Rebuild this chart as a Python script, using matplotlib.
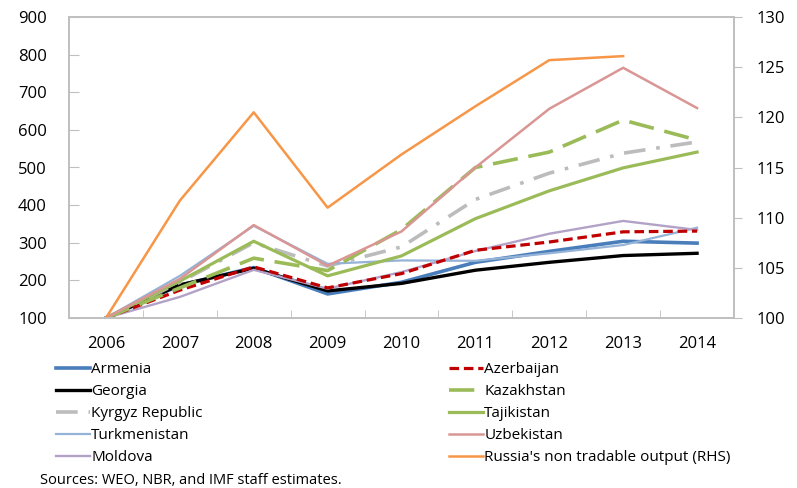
import numpy as np
import matplotlib
matplotlib.use("Agg")
import matplotlib.pyplot as plt
from matplotlib.lines import Line2D

plt.rcParams["font.family"] = ["Open Sans", "DejaVu Sans"]

years = ["2006", "2007", "2008", "2009", "2010", "2011", "2012", "2013", "2014"]

armenia = [100, 187, 234, 164, 195, 248, 277, 304, 299]
azerbaijan = [100, 174, 236, 180, 218, 280, 302, 329, 331]
georgia = [100, 188, 232, 172, 192, 227, 248, 266, 272]
kazakhstan = [100, 180, 259, 226, 335, 500, 541, 626, 573]
kyrgyz = [100, 195, 300, 238, 289, 415, 485, 538, 568]
tajikistan = [100, 198, 304, 212, 265, 364, 438, 499, 541]
turkmenistan = [100, 212, 345, 244, 253, 252, 272, 294, 340]
uzbekistan = [100, 204, 347, 239, 330, 500, 656, 765, 658]
moldova = [100, 156, 228, 178, 222, 278, 324, 358, 334]
russia_rhs = [100, 111.7, 120.5, 111.0, 116.3, 121.1, 125.7, 126.1, np.nan]

x = np.arange(len(years))

fig = plt.figure(figsize=(7.97, 4.88), dpi=100)
ax = fig.add_axes([69 / 797, 1 - 318 / 488, (734 - 69) / 797, (318 - 17) / 488])
ax2 = ax.twinx()

green = "#9BBB59"
series = [
    ("Armenia", armenia, dict(color="#4A7EBB", lw=2.6, ls="-")),
    ("Georgia", georgia, dict(color="black", lw=2.4, ls="-")),
    ("Kyrgyz Republic", kyrgyz, dict(color="#BCBCBC", lw=2.6, ls=(0, (6, 3, 1, 3)))),
    ("Turkmenistan", turkmenistan, dict(color="#95B3D7", lw=1.6, ls="-")),
    ("Moldova", moldova, dict(color="#B3A2C7", lw=1.7, ls="-")),
    ("Azerbaijan", azerbaijan, dict(color="#C00000", lw=2.3, ls=(0, (3, 1.5)))),
    ("Kazakhstan", kazakhstan, dict(color=green, lw=2.6, ls=(0, (7, 3)))),
    ("Tajikistan", tajikistan, dict(color=green, lw=2.3, ls="-")),
    ("Uzbekistan", uzbekistan, dict(color="#D99694", lw=1.8, ls="-")),
]

handles = []
for name, vals, st in series:
    ax.plot(x, vals, label=name, **st)
    handles.append(Line2D([], [], **st))
ax2.plot(x, russia_rhs, color="#F79646", lw=1.8)
handles.append(Line2D([], [], color="#F79646", lw=1.8))
labels = [s[0] for s in series] + ["Russia's non tradable output (RHS)"]

ax.set_xlim(-0.5, 8.5)
ax.set_ylim(100, 900)
ax.set_yticks(range(100, 901, 100))
ax2.set_ylim(100, 130)
ax2.set_yticks(range(100, 131, 5))

ax.set_xticks(x)
ax.set_xticklabels(years)
ax.set_xticks(np.arange(0.5, 8.5, 1), minor=True)
ax.tick_params(axis="x", which="major", length=0, pad=13, labelsize=12)
ax.tick_params(axis="x", which="minor", direction="in", length=6, color="#BFBFBF")
ax.tick_params(axis="y", direction="in", length=7, color="#BFBFBF", pad=16, labelsize=12)
ax2.tick_params(axis="y", direction="out", length=6, color="#BFBFBF", pad=10, labelsize=12)

for a in (ax, ax2):
    for sp in a.spines.values():
        sp.set_color("#BFBFBF")
        sp.set_linewidth(1.2)

leg_kw = dict(frameon=False, fontsize=11, handlelength=2.2, handletextpad=0.1,
              labelspacing=0.46, borderaxespad=0, borderpad=0)
fig.legend(handles[:5], labels[:5], loc="upper left",
           bbox_to_anchor=(56 / 797, 1 - 362 / 488), **leg_kw)
fig.legend(handles[5:], labels[5:], loc="upper left",
           bbox_to_anchor=(449 / 797, 1 - 362 / 488), **leg_kw)

fig.text(40 / 797, 1 - 481 / 488, "Sources: WEO, NBR, and IMF staff estimates.",
         fontsize=10.5, va="center", ha="left")

fig.savefig("out.png", dpi=100)
